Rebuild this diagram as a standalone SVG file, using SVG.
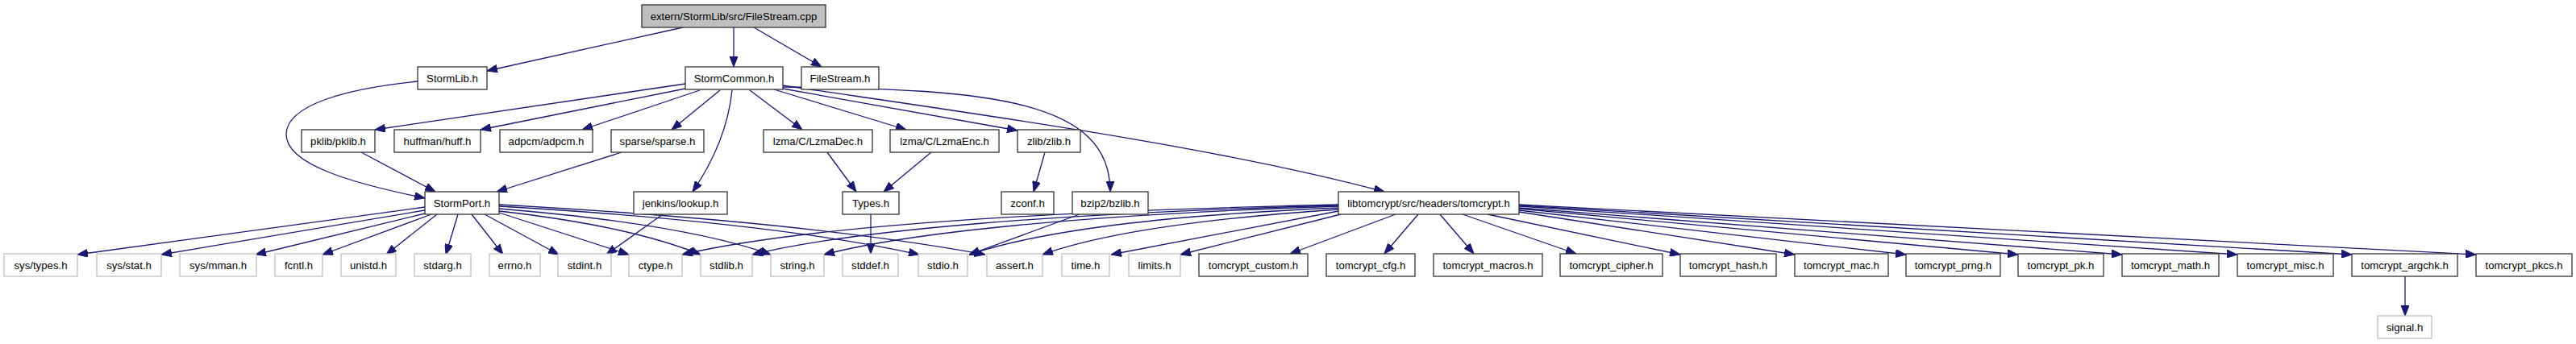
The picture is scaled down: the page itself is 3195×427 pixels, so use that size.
<svg xmlns="http://www.w3.org/2000/svg" width="3195" height="427" viewBox="0 0 3195 427">
<style>
.n rect{fill:#ffffff;stroke:#333333;stroke-width:1.3}
.g rect{fill:#ffffff;stroke:#bfbfbf;stroke-width:1.3}
.r rect{fill:#bfbfbf;stroke:#333333;stroke-width:1.3}
text{font-family:"Liberation Sans",Arial,Helvetica,sans-serif;font-size:13.2px;text-anchor:middle;fill:#000000}
#edges path{fill:none;stroke:#191970;stroke-width:1.3;marker-end:url(#arr)}
</style>
<defs>
<marker id="arr" markerUnits="userSpaceOnUse" markerWidth="13" markerHeight="10" viewBox="0 0 13 10" refX="13" refY="5" orient="auto">
<path d="M0,0 L13,5 L0,10 z" fill="#191970" stroke="#191970" stroke-width="1"/>
</marker>
</defs>
<rect width="3195" height="427" fill="#ffffff"/>
<g id="edges">
<path d="M847,34 L604,88"/>
<path d="M910,34 L910,83"/>
<path d="M935,34 L1019,83"/>
<path d="M518,101 C430,110 355,130 355,167 C355,205 440,228 527,246"/>
<path d="M850,104 L465,161"/>
<path d="M850,110 L596,161"/>
<path d="M868,112 L722,161"/>
<path d="M893,112 L833,161"/>
<path d="M908,112 C903,160 885,200 859,238"/>
<path d="M930,112 L995,161"/>
<path d="M960,111 L1124,161"/>
<path d="M971,110 L1262,162"/>
<path d="M971,108 C1230,110 1377,125 1377,238"/>
<path d="M971,106 C1200,140 1500,180 1717,238"/>
<path d="M448,189 L540,238"/>
<path d="M771,189 L616,238"/>
<path d="M1026,189 L1062,238"/>
<path d="M1155,189 L1096,238"/>
<path d="M1080,266 L1080,315"/>
<path d="M1296,189 L1282,238"/>
<path d="M822,266 L752,316"/>
<path d="M1339,266 L1202,316"/>
<path d="M527,257 L96,316"/>
<path d="M527,261 L200,316"/>
<path d="M527,265 L317,316"/>
<path d="M535,266 L400,316"/>
<path d="M542,266 L479,316"/>
<path d="M568,266 L553,316"/>
<path d="M585,266 L624,316"/>
<path d="M601,266 L693,316"/>
<path d="M619,264 L780,316"/>
<path d="M619,262 Q780,280 869,316"/>
<path d="M619,259 Q850,278 956,316"/>
<path d="M619,256 Q960,276 1140,316"/>
<path d="M619,254 Q1000,275 1222,316"/>
<path d="M1660,254 C1300,262 1000,280 846,316"/>
<path d="M1660,255 C1320,264 1060,285 933,316"/>
<path d="M1660,256 C1350,266 1130,288 1022,316"/>
<path d="M1660,258 C1420,268 1280,290 1202,316"/>
<path d="M1660,260 C1480,272 1360,292 1293,316"/>
<path d="M1660,262 L1378,316"/>
<path d="M1663,266 L1464,316"/>
<path d="M1731,266 L1600,315"/>
<path d="M1759,266 L1717,315"/>
<path d="M1786,266 L1828,315"/>
<path d="M1814,266 L1955,315"/>
<path d="M1845,266 L2084,316"/>
<path d="M1884,263 L2226,316"/>
<path d="M1884,261 L2364,316"/>
<path d="M1884,259 L2503,316"/>
<path d="M1884,258 L2632,316"/>
<path d="M1884,256 L2775,316"/>
<path d="M1884,255 L2917,316"/>
<path d="M1884,254 L3071,316"/>
<path d="M2983,343 L2983,392"/>
</g>
<g id="n_root" class="r"><rect x="796" y="6" width="228" height="28"/><text x="910" y="24.8">extern/StormLib/src/FileStream.cpp</text></g>
<g id="n_stormlib" class="n"><rect x="518" y="83" width="86" height="28"/><text x="561" y="101.8">StormLib.h</text></g>
<g id="n_stormcommon" class="n"><rect x="850" y="83" width="121" height="28"/><text x="910.5" y="101.8">StormCommon.h</text></g>
<g id="n_filestream" class="n"><rect x="994" y="83" width="96" height="28"/><text x="1042" y="101.8">FileStream.h</text></g>
<g id="n_pklib" class="n"><rect x="374" y="161" width="91" height="28"/><text x="419.5" y="179.8">pklib/pklib.h</text></g>
<g id="n_huff" class="n"><rect x="489" y="161" width="107" height="28"/><text x="542.5" y="179.8">huffman/huff.h</text></g>
<g id="n_adpcm" class="n"><rect x="620" y="161" width="115" height="28"/><text x="677.5" y="179.8">adpcm/adpcm.h</text></g>
<g id="n_sparse" class="n"><rect x="758" y="161" width="115" height="28"/><text x="815.5" y="179.8">sparse/sparse.h</text></g>
<g id="n_lzmadec" class="n"><rect x="947" y="161" width="135" height="28"/><text x="1014.5" y="179.8">lzma/C/LzmaDec.h</text></g>
<g id="n_lzmaenc" class="n"><rect x="1104" y="161" width="135" height="28"/><text x="1171.5" y="179.8">lzma/C/LzmaEnc.h</text></g>
<g id="n_zlib" class="n"><rect x="1262" y="161" width="78" height="28"/><text x="1301" y="179.8">zlib/zlib.h</text></g>
<g id="n_stormport" class="n"><rect x="527" y="238" width="92" height="28"/><text x="573" y="256.8">StormPort.h</text></g>
<g id="n_jenkins" class="n"><rect x="786" y="238" width="116" height="28"/><text x="844" y="256.8">jenkins/lookup.h</text></g>
<g id="n_types" class="n"><rect x="1045" y="238" width="70" height="28"/><text x="1080" y="256.8">Types.h</text></g>
<g id="n_zconf" class="n"><rect x="1242" y="238" width="65" height="28"/><text x="1274.5" y="256.8">zconf.h</text></g>
<g id="n_bzlib" class="n"><rect x="1330" y="238" width="94" height="28"/><text x="1377" y="256.8">bzip2/bzlib.h</text></g>
<g id="n_tomcrypt" class="n"><rect x="1660" y="238" width="224" height="28"/><text x="1772" y="256.8">libtomcrypt/src/headers/tomcrypt.h</text></g>
<g id="n_systypes" class="g"><rect x="5" y="315" width="91" height="28"/><text x="50.5" y="333.8">sys/types.h</text></g>
<g id="n_sysstat" class="g"><rect x="120" y="315" width="80" height="28"/><text x="160" y="333.8">sys/stat.h</text></g>
<g id="n_sysmman" class="g"><rect x="223" y="315" width="95" height="28"/><text x="270.5" y="333.8">sys/mman.h</text></g>
<g id="n_fcntl" class="g"><rect x="341" y="315" width="59" height="28"/><text x="370.5" y="333.8">fcntl.h</text></g>
<g id="n_unistd" class="g"><rect x="423" y="315" width="68" height="28"/><text x="457" y="333.8">unistd.h</text></g>
<g id="n_stdarg" class="g"><rect x="514" y="315" width="70" height="28"/><text x="549" y="333.8">stdarg.h</text></g>
<g id="n_errno" class="g"><rect x="607" y="315" width="63" height="28"/><text x="638.5" y="333.8">errno.h</text></g>
<g id="n_stdint" class="g"><rect x="692" y="315" width="66" height="28"/><text x="725" y="333.8">stdint.h</text></g>
<g id="n_ctype" class="g"><rect x="780" y="315" width="66" height="28"/><text x="813" y="333.8">ctype.h</text></g>
<g id="n_stdlib" class="g"><rect x="869" y="315" width="64" height="28"/><text x="901" y="333.8">stdlib.h</text></g>
<g id="n_string" class="g"><rect x="956" y="315" width="66" height="28"/><text x="989" y="333.8">string.h</text></g>
<g id="n_stddef" class="g"><rect x="1045" y="315" width="69" height="28"/><text x="1079.5" y="333.8">stddef.h</text></g>
<g id="n_stdio" class="g"><rect x="1139" y="315" width="61" height="28"/><text x="1169.5" y="333.8">stdio.h</text></g>
<g id="n_assert" class="g"><rect x="1224" y="315" width="69" height="28"/><text x="1258.5" y="333.8">assert.h</text></g>
<g id="n_time" class="g"><rect x="1317" y="315" width="59" height="28"/><text x="1346.5" y="333.8">time.h</text></g>
<g id="n_limits" class="g"><rect x="1400" y="315" width="64" height="28"/><text x="1432" y="333.8">limits.h</text></g>
<g id="n_custom" class="n"><rect x="1487" y="315" width="135" height="28"/><text x="1554.5" y="333.8">tomcrypt_custom.h</text></g>
<g id="n_cfg" class="n"><rect x="1645" y="315" width="110" height="28"/><text x="1700" y="333.8">tomcrypt_cfg.h</text></g>
<g id="n_macros" class="n"><rect x="1778" y="315" width="135" height="28"/><text x="1845.5" y="333.8">tomcrypt_macros.h</text></g>
<g id="n_cipher" class="n"><rect x="1935" y="315" width="127" height="28"/><text x="1998.5" y="333.8">tomcrypt_cipher.h</text></g>
<g id="n_hash" class="n"><rect x="2084" y="315" width="119" height="28"/><text x="2143.5" y="333.8">tomcrypt_hash.h</text></g>
<g id="n_mac" class="n"><rect x="2226" y="315" width="116" height="28"/><text x="2284" y="333.8">tomcrypt_mac.h</text></g>
<g id="n_prng" class="n"><rect x="2364" y="315" width="117" height="28"/><text x="2422.5" y="333.8">tomcrypt_prng.h</text></g>
<g id="n_pk" class="n"><rect x="2503" y="315" width="106" height="28"/><text x="2556" y="333.8">tomcrypt_pk.h</text></g>
<g id="n_math" class="n"><rect x="2632" y="315" width="120" height="28"/><text x="2692" y="333.8">tomcrypt_math.h</text></g>
<g id="n_misc" class="n"><rect x="2775" y="315" width="119" height="28"/><text x="2834.5" y="333.8">tomcrypt_misc.h</text></g>
<g id="n_argchk" class="n"><rect x="2917" y="315" width="131" height="28"/><text x="2982.5" y="333.8">tomcrypt_argchk.h</text></g>
<g id="n_pkcs" class="n"><rect x="3071" y="315" width="119" height="28"/><text x="3130.5" y="333.8">tomcrypt_pkcs.h</text></g>
<g id="n_signal" class="g"><rect x="2949" y="392" width="67" height="28"/><text x="2982.5" y="410.8">signal.h</text></g>
</svg>
